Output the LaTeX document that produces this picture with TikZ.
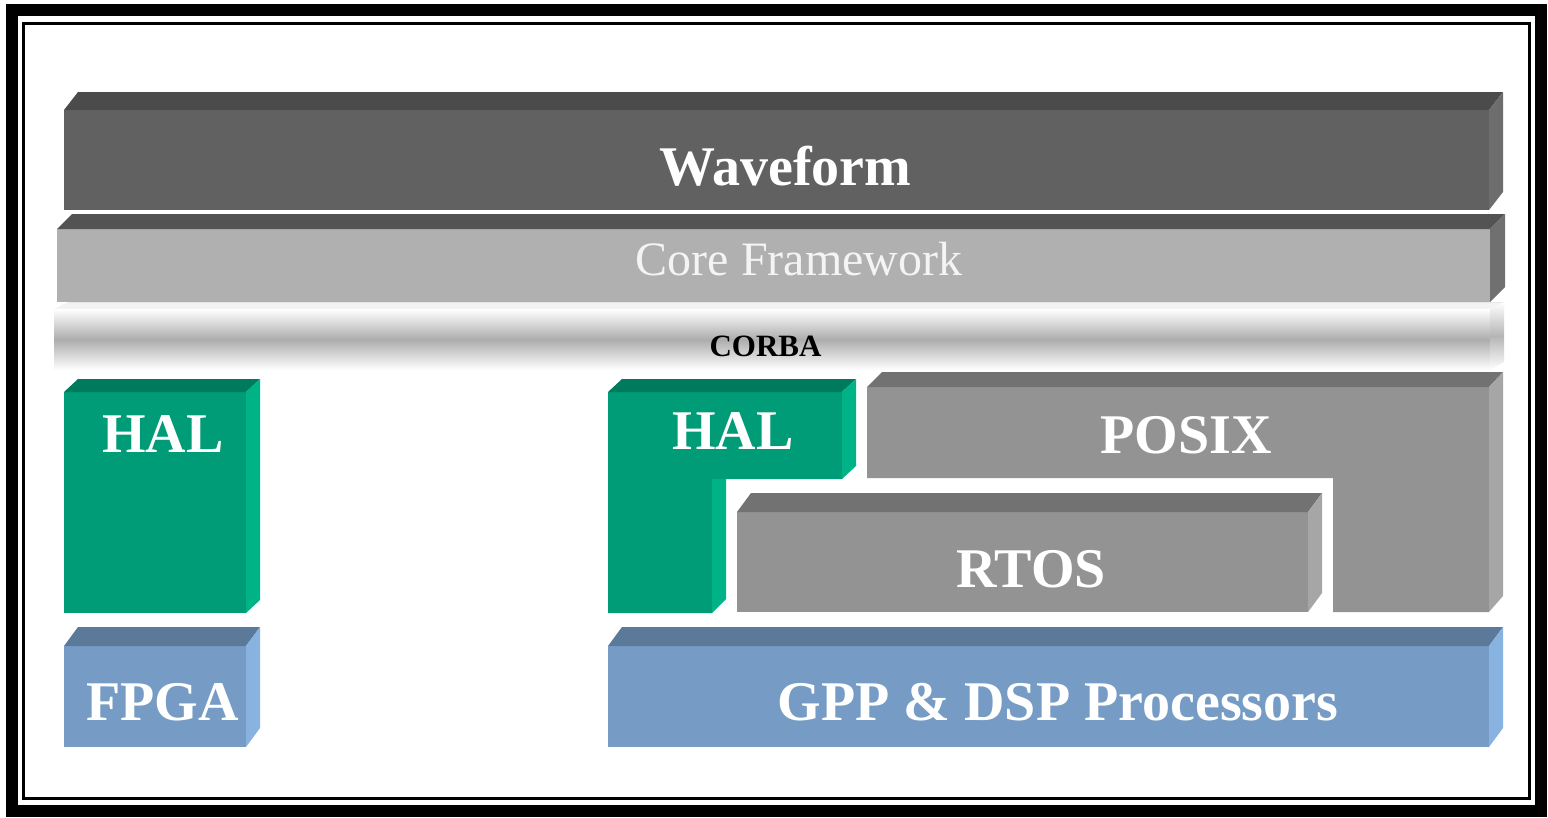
\documentclass[tikz,border=0pt]{standalone}
\usepackage{fontspec}
\setmainfont{Liberation Serif}
\definecolor{wvF}{HTML}{616161}
\definecolor{wvT}{HTML}{4B4B4B}
\definecolor{wvS}{HTML}{6D6D6D}
\definecolor{cfF}{HTML}{B0B0B0}
\definecolor{cfT}{HTML}{535353}
\definecolor{cfS}{HTML}{707070}
\definecolor{cfText}{HTML}{F4F4F4}
\definecolor{corbaMid}{HTML}{ADADAD}
\definecolor{corbaTop}{HTML}{E6E6E6}
\definecolor{halF}{HTML}{009B77}
\definecolor{halT}{HTML}{007A5D}
\definecolor{halS}{HTML}{00B386}
\definecolor{osF}{HTML}{939393}
\definecolor{osT}{HTML}{727272}
\definecolor{osS}{HTML}{A6A6A6}
\definecolor{hwF}{HTML}{769CC6}
\definecolor{hwT}{HTML}{5B7A9A}
\definecolor{hwS}{HTML}{88B3E0}
% x1 y1 x2 y2 dx dy front top side
\newcommand\layerbox[9]{%
  \fill[#7] (#1,#2) rectangle (#3,#4);
  \fill[#8] (#1,#2) -- ({#1+#5},{#2-#6}) -- ({#3+#5},{#2-#6}) -- (#3,#2) -- cycle;
  \fill[#9] (#3,#2) -- ({#3+#5},{#2-#6}) -- ({#3+#5},{#4-#6}) -- (#3,#4) -- cycle;}
\begin{document}
\begin{tikzpicture}[x=1pt,y=-1pt,
  lbl/.style={text=white,font=\bfseries\fontsize{56}{60}\selectfont,anchor=base,inner sep=0pt},
  cflbl/.style={text=cfText,font=\fontsize{48}{54}\selectfont,anchor=base,inner sep=0pt},
  corbalbl/.style={text=black,font=\bfseries\fontsize{31}{34}\selectfont,anchor=base,inner sep=0pt},
  tube/.style={top color=white,bottom color=white,middle color=#1},
  tube/.default=corbaMid]
\useasboundingbox (0,0) rectangle (1548,817);
\fill[white] (0,0) rectangle (1548,817);
% frame
\draw[line width=12pt] (12,10) rectangle (1541,811);
\draw[line width=3pt] (23,23.5) rectangle (1529,798.5);
% Waveform
\layerbox{64}{110}{1489}{210}{14}{18}{wvF}{wvT}{wvS}
\node[lbl] (wave) at (785.5,185) {Waveform};
% Core Framework
\layerbox{57}{229}{1490}{302}{15}{15}{cfF}{cfT}{cfS}
\node[cflbl] (cf) at (799,275) {Core Framework};
% CORBA
\fill[corbaTop!50] (54,309) -- (68,302) -- (1504,302) -- (1490,309) -- cycle;
\draw[corbaTop,line width=1pt] (68,302.5) -- (1504,302.5);
\shade[tube] (54,309) rectangle (1490,370);
\shade[tube=corbaMid!90] (1490,309) -- (1504,302) -- (1504,362) -- (1490,370) -- cycle;
\node[corbalbl] (corba) at (765.5,356) {CORBA};
% HAL left
\layerbox{64}{392}{246}{613}{14}{13}{halF}{halT}{halS}
\node[lbl] (hal1) at (163,452) {HAL};
% HAL right (L shape)
\fill[halF] (608,392) -- (842,392) -- (842,479) -- (712,479) -- (712,613) -- (608,613) -- cycle;
\fill[halT] (608,392) -- (622,379) -- (856,379) -- (842,392) -- cycle;
\fill[halS] (842,392) -- (856,379) -- (856,466) -- (842,479) -- cycle;
\fill[halS] (712,479) -- (726,479) -- (726,599) -- (712,613) -- cycle;
\node[lbl] (hal2) at (733,449) {HAL};
% POSIX (L shape)
\fill[osF] (867,387) -- (1489,387) -- (1489,612) -- (1333,612) -- (1333,478) -- (867,478) -- cycle;
\fill[osT] (867,387) -- (882,372) -- (1503,372) -- (1489,387) -- cycle;
\fill[osS] (1489,387) -- (1503,372) -- (1503,596) -- (1489,612) -- cycle;
\node[lbl] (posix) at (1186,453) {POSIX};
% RTOS
\layerbox{737}{512}{1308}{612}{14}{19}{osF}{osT}{osS}
\node[lbl] (rtos) at (1031,587) {RTOS};
% FPGA
\layerbox{64}{646}{246}{747}{14}{19}{hwF}{hwT}{hwS}
\node[lbl] (fpga) at (162.5,720) {FPGA};
% GPP & DSP
\layerbox{608}{646}{1489}{747}{14}{19}{hwF}{hwT}{hwS}
\node[lbl] (gpp) at (1058,720) {GPP \& DSP Processors};
\end{tikzpicture}
\end{document}
